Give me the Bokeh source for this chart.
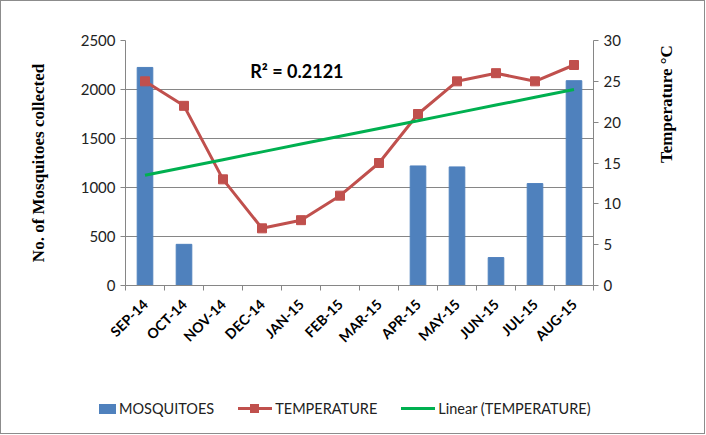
import numpy as np
from bokeh.plotting import figure
from bokeh.layouts import column
from bokeh.models import (Range1d, LinearAxis, FixedTicker, Label, Div)
from bokeh.embed import file_html
from bokeh.resources import INLINE

months = ["SEP-14", "OCT-14", "NOV-14", "DEC-14", "JAN-15", "FEB-15",
          "MAR-15", "APR-15", "MAY-15", "JUN-15", "JUL-15", "AUG-15"]
mosquitoes = [2225, 420, 0, 0, 0, 0, 0, 1220, 1210, 285, 1040, 2090]
temperature = [25, 22, 13, 7, 8, 11, 15, 21, 25, 26, 25, 27]
left_ticks = [0, 500, 1000, 1500, 2000, 2500]
right_ticks = [0, 5, 10, 15, 20, 25, 30]
series_names = ["MOSQUITOES", "TEMPERATURE", "Linear (TEMPERATURE)"]

idx = np.arange(len(months))
xc = idx + 0.5
slope, intercept = np.polyfit(idx, temperature, 1)
trend = slope * idx + intercept
r2 = np.corrcoef(idx, temperature)[0, 1] ** 2

BLUE, RED, GREEN = "#4F81BD", "#C0504D", "#00B050"
GRAY = "#868686"
LBL = "Lato"

p = figure(frame_width=468, frame_height=245, output_backend="svg", toolbar_location=None,
           x_range=Range1d(0, 12), y_range=Range1d(0, 2500),
           min_border_left=124, min_border_right=111, min_border_top=39,
           min_border_bottom=100)
p.outline_line_color = None
p.background_fill_color = "white"
p.border_fill_color = "white"
p.extra_y_ranges = {"temp": Range1d(0, 30)}

p.xgrid.grid_line_color = None
p.ygrid.grid_line_color = GRAY
p.ygrid.ticker = FixedTicker(ticks=left_ticks)

p.vbar(x=xc, top=mosquitoes, width=0.4, color=BLUE)
p.line(xc, temperature, y_range_name="temp", color=RED, line_width=3)
p.scatter(xc, temperature, y_range_name="temp", marker="square", size=9, color=RED)
p.line(xc, trend, y_range_name="temp", color=GREEN, line_width=3)

# x axis
xa = p.xaxis[0]
xa.ticker = FixedTicker(ticks=list(xc), minor_ticks=list(range(13)))
xa.major_label_overrides = {float(x): m for x, m in zip(xc, months)}
xa.major_label_orientation = np.pi / 4
xa.major_label_standoff = 10
xa.major_label_text_font = LBL
xa.major_label_text_font_style = "bold"
xa.major_label_text_font_size = "14px"
xa.major_label_text_color = "black"
xa.major_tick_line_color = None
xa.minor_tick_line_color = GRAY
xa.minor_tick_out = 5
xa.minor_tick_in = 0
xa.axis_line_color = GRAY

# left axis
ya = p.yaxis[0]
ya.ticker = FixedTicker(ticks=left_ticks)
ya.minor_tick_line_color = None
ya.major_tick_in = 0
ya.major_tick_out = 5
ya.major_tick_line_color = GRAY
ya.axis_line_color = GRAY
ya.major_label_text_font = LBL
ya.major_label_text_font_size = "15px"
ya.major_label_text_color = "#222222"
ya.axis_label = "No. of Mosquitoes collected"
ya.axis_label_text_font = "Liberation Serif"
ya.axis_label_text_font_style = "bold"
ya.axis_label_text_font_size = "17px"
ya.axis_label_text_color = "black"
ya.axis_label_standoff = 30

ra = LinearAxis(y_range_name="temp", ticker=FixedTicker(ticks=right_ticks))
ra.minor_tick_line_color = None
ra.major_tick_in = 0
ra.major_tick_out = 5
ra.major_tick_line_color = GRAY
ra.axis_line_color = GRAY
ra.major_label_text_font = LBL
ra.major_label_text_font_size = "15px"
ra.major_label_text_color = "#222222"
ra.axis_label = "Temperature \u00b0C"
ra.axis_label_text_font = "Liberation Serif"
ra.axis_label_text_font_style = "bold"
ra.axis_label_text_font_size = "17px"
ra.axis_label_text_color = "black"
ra.axis_label_standoff = 43
ra.axis_label_orientation = np.pi / 2
p.add_layout(ra, "right")

p.add_layout(Label(x=3.2, y=2190, text=f"R\u00b2 = {r2:.4f}", text_font=LBL,
                   text_font_style="bold", text_font_size="18px",
                   text_baseline="middle", text_color="black"))

# legend strip below the chart (HTML, real text)
item = ('<span style="display:inline-flex;align-items:center;margin-right:24px">'
        '{sw}<span>{lab}</span></span>')
sw_bar = ('<span style="display:inline-block;width:17px;height:10px;'
          f'background:{BLUE};margin-right:3px"></span>')
sw_temp = ('<span style="display:inline-block;position:relative;width:34px;height:3px;'
           f'background:{RED};margin-right:3px">'
           '<span style="position:absolute;left:12px;top:-3px;width:9px;height:9px;'
           f'background:{RED}"></span></span>')
sw_lin = ('<span style="display:inline-block;width:34px;height:3px;'
          f'background:{GREEN};margin-right:3px"></span>')
items_html = "".join(item.format(sw=s, lab=l) for s, l in
                     zip([sw_bar, sw_temp, sw_lin], series_names))
html = ('<div style="display:flex;align-items:center;justify-content:flex-start;'
        'box-sizing:border-box;padding-left:98px;width:703px;height:48px;'
        f'font-family:Lato,sans-serif;font-size:14.5px;color:#222222">{items_html}</div>')
lg = Div(text=html, width=703, height=48, margin=0)

layout = column(p, lg, spacing=0)
layout.styles = {"border": "1px solid #8c8c8c"}

open("out.html", "w").write(file_html(layout, INLINE))
